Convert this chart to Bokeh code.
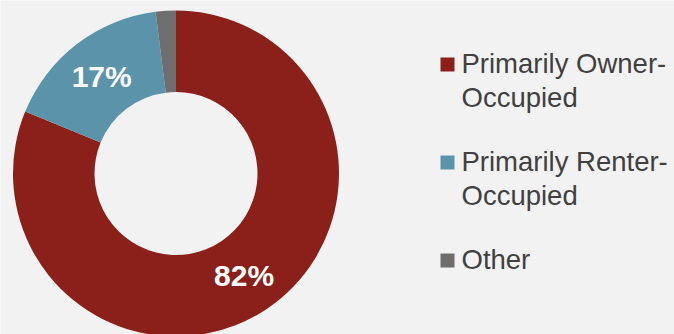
import math
from bokeh.plotting import figure
from bokeh.models import Range1d, ColumnDataSource
from bokeh.core.properties import value
from bokeh.embed import file_html
from bokeh.resources import INLINE

categories = ["Primarily Owner-\nOccupied", "Primarily Renter-\nOccupied", "Other"]
shares = [81.2, 16.8, 2.0]
labels = ["82%", "17%", ""]
colors = ["#8B1F1A", "#5B93AB", "#6E6E6E"]

W, H = 674, 334
cx, cy = 175.5, H - 173
r_out, r_in = 163, 81.5

p = figure(width=W, height=H, output_backend="svg", toolbar_location=None,
           x_range=Range1d(0, W), y_range=Range1d(0, H), min_border=0)
p.axis.visible = False
p.grid.visible = False
p.outline_line_color = None
p.background_fill_color = "#F2F2F2"
p.border_fill_color = "#F2F2F2"

total = sum(shares)
starts, ends, lx, ly = [], [], [], []
a = math.pi / 2
for s in shares:
    e = a - 2 * math.pi * s / total
    starts.append(a)
    ends.append(e)
    mid = (a + e) / 2
    rm = (r_out + r_in) / 2
    lx.append(cx + rm * math.cos(mid))
    ly.append(cy + rm * math.sin(mid))
    a = e

src = ColumnDataSource(dict(x=[cx] * 3, y=[cy] * 3, start=starts, end=ends, color=colors,
                            lx=lx, ly=ly, label=labels))
p.annular_wedge(x="x", y="y", inner_radius=r_in, outer_radius=r_out,
                inner_radius_units="screen", outer_radius_units="screen",
                start_angle="start", end_angle="end", direction="clock",
                fill_color="color", line_color=None, source=src)
p.text(x="lx", y="ly", text="label", source=src, text_color="white",
       text_font=value("Liberation Sans"), text_font_style="bold",
       text_font_size="30px", text_align="center", text_baseline="middle")

# legend
leg_tops = [57, 155, 253]
sq_x = [447] * 3
sq_y = [H - (t + 7) for t in leg_tops]
p.rect(x=sq_x, y=sq_y, width=14, height=14, width_units="screen", height_units="screen",
       fill_color=colors, line_color=None)
p.text(x=[461] * 3, y=[H - (t - 10) for t in leg_tops], text=categories,
       text_color="#404040", text_font=value("Liberation Sans"), text_font_size="27.5px",
       text_align="left", text_baseline="top", text_line_height=1.12)

open("out.html", "w").write(file_html(p, INLINE))
